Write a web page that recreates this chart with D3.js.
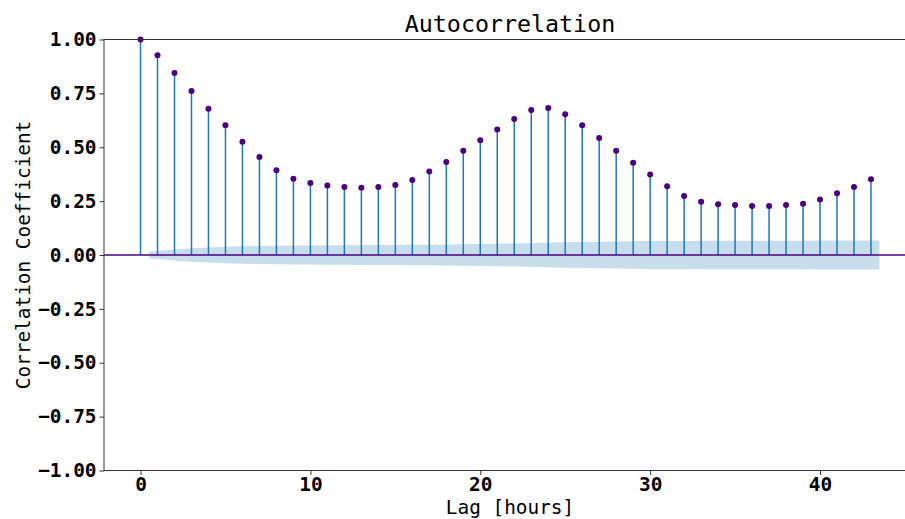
<!DOCTYPE html>
<html>
<head>
<meta charset="utf-8">
<script src="https://cdn.jsdelivr.net/npm/d3@7"></script>
<style>
body { margin: 0; background: #fff; }
svg text { font-family: "DejaVu Sans Mono", monospace; }
</style>
</head>
<body>
<div id="chart"></div>
<script>
// acf values, lag 0..43
var lags = d3.range(0, 44);
var acfValues = [1.000, 0.927, 0.845, 0.761, 0.679, 0.602, 0.526, 0.455, 0.393, 0.354,
	0.334, 0.322, 0.316, 0.312, 0.316, 0.325, 0.348, 0.387, 0.432, 0.484,
	0.532, 0.582, 0.631, 0.673, 0.682, 0.653, 0.602, 0.543, 0.484, 0.428,
	0.374, 0.319, 0.274, 0.247, 0.235, 0.232, 0.227, 0.227, 0.232, 0.238,
	0.258, 0.286, 0.316, 0.351];
// half width of the confidence band for lags 1..43
var bandHalf = [0.0152, 0.0251, 0.0309, 0.0350, 0.0379, 0.0401, 0.0416, 0.0428, 0.0436, 0.0443,
	0.0448, 0.0454, 0.0459, 0.0464, 0.0469, 0.0474, 0.0480, 0.0487, 0.0496, 0.0506,
	0.0519, 0.0534, 0.0551, 0.0570, 0.0588, 0.0605, 0.0618, 0.0629, 0.0638, 0.0644,
	0.0649, 0.0653, 0.0656, 0.0658, 0.0660, 0.0662, 0.0663, 0.0665, 0.0667, 0.0669,
	0.0671, 0.0674, 0.0678];
var xTicks = [0, 10, 20, 30, 40];
var yTicks = [-1.00, -0.75, -0.50, -0.25, 0.00, 0.25, 0.50, 0.75, 1.00];

var width = 905, height = 519;
var margin = {left: 104, top: 39.5, right: 916, bottom: 470.5};

var svg = d3.select("#chart").append("svg")
	.attr("width", width)
	.attr("height", height);

var xScale = d3.scaleLinear()
	.domain([-2.15, 45.65])
	.range([margin.left, margin.right]);
var yScale = d3.scaleLinear()
	.domain([-1, 1])
	.range([margin.bottom, margin.top]);

// stems
var g = svg.append("g");
g.selectAll("line.stem")
	.data(lags)
	.enter().append("line")
	.attr("class", "stem")
	.attr("x1", function(d){ return xScale(d); })
	.attr("x2", function(d){ return xScale(d); })
	.attr("y1", yScale(0))
	.attr("y2", function(d){ return yScale(acfValues[d]); })
	.attr("stroke", "#1f77b4")
	.attr("stroke-width", 1.5);

// confidence band, ends pushed out half a lag like statsmodels does
var bandX = lags.slice(1).map(function(l){ return l; });
bandX[0] -= 0.5;
bandX[bandX.length - 1] += 0.5;
var area = d3.area()
	.x(function(d, i){ return xScale(bandX[i]); })
	.y0(function(d){ return yScale(-d); })
	.y1(function(d){ return yScale(d); });
g.append("path")
	.datum(bandHalf)
	.attr("d", area)
	.attr("fill", "#1f77b4")
	.attr("fill-opacity", 0.25);

// zero line
g.append("line")
	.attr("x1", margin.left)
	.attr("x2", margin.right)
	.attr("y1", yScale(0))
	.attr("y2", yScale(0))
	.attr("stroke", "#4b0082")
	.attr("stroke-width", 1.6);

// markers
g.selectAll("circle")
	.data(lags)
	.enter().append("circle")
	.attr("cx", function(d){ return xScale(d); })
	.attr("cy", function(d){ return yScale(acfValues[d]); })
	.attr("r", 3)
	.attr("fill", "#4b0082");

// axes
var xAxis = d3.axisBottom(xScale).tickValues(xTicks).tickSize(4.5).tickPadding(2)
	.tickFormat(d3.format("d"));
var yAxis = d3.axisLeft(yScale).tickValues(yTicks).tickSize(4.5).tickPadding(3)
	.tickFormat(d3.format(".2f"));

var gx = svg.append("g")
	.attr("transform", "translate(0," + margin.bottom + ")")
	.call(xAxis);
var gy = svg.append("g")
	.attr("transform", "translate(" + margin.left + ",0)")
	.call(yAxis);
[gx, gy].forEach(function(ax)
{
	ax.select(".domain").remove();
	ax.selectAll(".tick line").attr("stroke", "#333").attr("stroke-width", 1);
	ax.selectAll(".tick text")
		.attr("fill", "#000")
		.style("font-family", "DejaVu Sans Mono")
		.style("font-weight", "bold")
		.style("font-size", "19.4px");
});
gy.selectAll(".tick text").text(function(d){ return d3.format(".2f")(d).replace("-", "\u2212"); });

// frame
svg.append("rect")
	.attr("x", margin.left)
	.attr("y", margin.top)
	.attr("width", margin.right - margin.left)
	.attr("height", margin.bottom - margin.top)
	.attr("fill", "none")
	.attr("stroke", "#333")
	.attr("stroke-width", 1);

// labels
svg.append("text")
	.attr("x", (margin.left + margin.right) / 2)
	.attr("y", 32)
	.attr("text-anchor", "middle")
	.style("font-size", "23.3px")
	.text("Autocorrelation");
svg.append("text")
	.attr("x", (margin.left + margin.right) / 2)
	.attr("y", 514)
	.attr("text-anchor", "middle")
	.style("font-size", "19.4px")
	.text("Lag [hours]");
svg.append("text")
	.attr("transform", "translate(30," + (margin.top + margin.bottom) / 2 + ") rotate(-90)")
	.attr("text-anchor", "middle")
	.style("font-size", "19.4px")
	.text("Correlation Coefficient");
</script>
</body>
</html>
